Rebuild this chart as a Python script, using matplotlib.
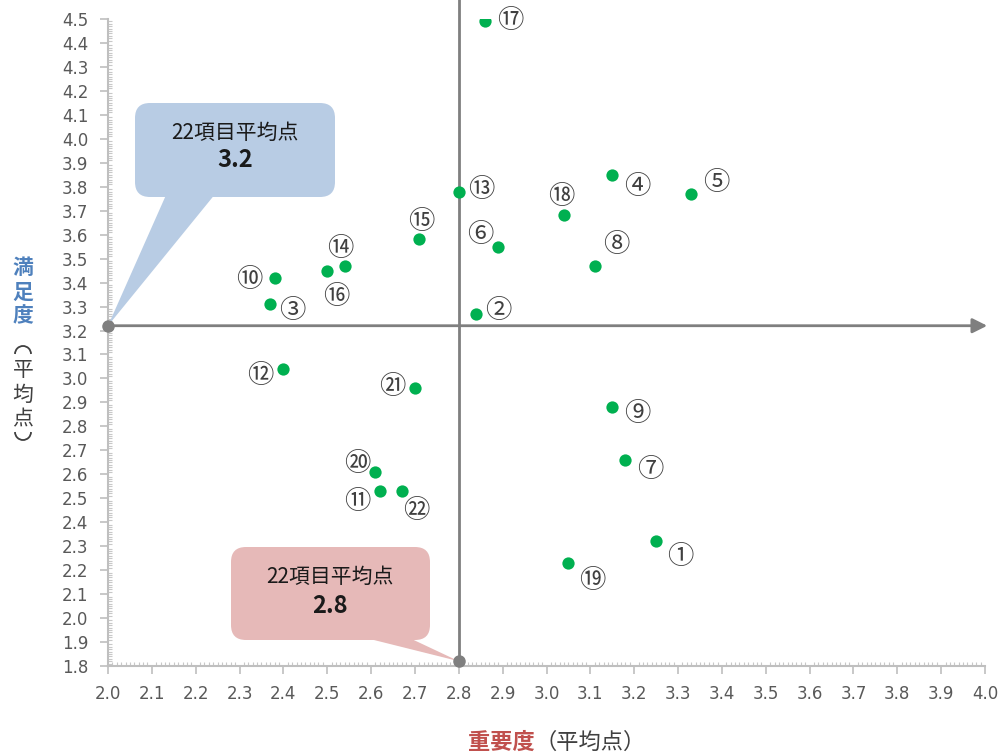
import matplotlib
matplotlib.use('Agg')
import matplotlib.pyplot as plt
from matplotlib.patches import FancyBboxPatch, Polygon, Arc
from matplotlib.ticker import MultipleLocator, FormatStrFormatter

# ---- data ----
item_labels = ['①', '②', '③', '④', '⑤', '⑥', '⑦', '⑧', '⑨', '⑩', '⑪',
               '⑫', '⑬', '⑭', '⑮', '⑯', '⑰', '⑱', '⑲', '⑳', '㉑', '㉒']
importance = [3.25, 2.84, 2.37, 3.15, 3.33, 2.89, 3.18, 3.11, 3.15, 2.38, 2.62,
              2.40, 2.80, 2.54, 2.71, 2.50, 2.86, 3.04, 3.05, 2.61, 2.70, 2.67]
satisfaction = [2.32, 3.27, 3.31, 3.85, 3.77, 3.55, 2.66, 3.47, 2.88, 3.42, 2.53,
                3.04, 3.78, 3.47, 3.58, 3.45, 4.49, 3.68, 2.23, 2.61, 2.96, 2.53]
mean_importance = 2.8
mean_satisfaction = 3.22
mean_imp_text = '2.8'
mean_sat_text = '3.2'
callout_title = '22項目平均点'
x_title_main = '重要度'
x_title_sub = '（平均点）'
y_title_main = ['満', '足', '度']
y_title_sub = ['平', '均', '点']

# label offsets (pixels) relative to each point
label_offsets = [(24, -11), (22, 7), (22, -2), (25, -8), (25, 15), (-18, 16),
                 (25, -6), (22, 25), (25, -2), (-25, 2), (-23, -6), (-23, -3),
                 (22, 6), (-5, 21), (2, 22), (9, -22), (25, 5), (-3, 23),
                 (24, -14), (-18, 12), (-23, 6), (14, -15)]
label_dy = -4
# vertical positions (pixels from top) of the stacked y-title characters
y_main_pos = [268, 292, 316]
y_sub_pos = [370, 395, 419]
paren_open_y, paren_close_y = 354, 432

CJK = ['Noto Sans CJK JP', 'DejaVu Sans']
W, H = 1002, 756

fig = plt.figure(figsize=(W / 100, H / 100), dpi=100)
ax = fig.add_axes([108 / W, 1 - 666 / H, 877 / W, 647 / H])
ax.set_xlim(2.0, 4.0)
ax.set_ylim(1.8, 4.5)

ax.xaxis.set_major_locator(MultipleLocator(0.1))
ax.xaxis.set_minor_locator(MultipleLocator(0.01))
ax.yaxis.set_major_locator(MultipleLocator(0.1))
ax.yaxis.set_minor_locator(MultipleLocator(0.01))
ax.xaxis.set_major_formatter(FormatStrFormatter('%.1f'))
ax.yaxis.set_major_formatter(FormatStrFormatter('%.1f'))
ax.tick_params(which='major', direction='out', length=6, width=1.2, color='#bfbfbf',
               labelsize=12, labelcolor='#595959', pad=8)
ax.tick_params(which='minor', direction='in', length=3, width=0.8, color='#c8c8c8')
for s in ['top', 'right']:
    ax.spines[s].set_visible(False)
for s in ['left', 'bottom']:
    ax.spines[s].set_color('#bfbfbf')
    ax.spines[s].set_linewidth(1.5)

line_c = '#7f7f7f'
# mean lines
ax.annotate('', xy=(4.005, mean_satisfaction), xytext=(2.0, mean_satisfaction),
            arrowprops=dict(arrowstyle='-|>', color=line_c, lw=2, mutation_scale=22,
                            shrinkA=0, shrinkB=0), annotation_clip=False, zorder=3)
ax.plot([mean_importance, mean_importance], [1.82, 4.58], color=line_c, lw=2,
        clip_on=False, zorder=3)
ax.plot([2.0], [mean_satisfaction], 'o', color=line_c, ms=8, clip_on=False, zorder=6)
ax.plot([mean_importance], [1.82], 'o', color=line_c, ms=8, clip_on=False, zorder=6)

# points
ax.scatter(importance, satisfaction, s=78, color='#00b050', zorder=5, linewidths=0)
for lab, x, y, off in zip(item_labels, importance, satisfaction, label_offsets):
    ax.annotate(lab, (x, y), xytext=(off[0], off[1] + label_dy), textcoords='offset pixels',
                ha='center', va='center', fontsize=19, color='#404040', family=CJK,
                zorder=6)


def to_axes(x, y):
    return ax.transAxes.inverted().transform(ax.transData.transform((x, y)))


aspect = 877 / 647
r = 15 / 877
# blue callout
blue = '#b8cce4'
bx0, bx1 = (135 - 108) / 877, (335 - 108) / 877
by0, by1 = (666 - 197) / 647, (666 - 103) / 647
ax.add_patch(FancyBboxPatch((bx0, by0), bx1 - bx0, by1 - by0,
                            boxstyle=f'round,pad=0,rounding_size={r}',
                            mutation_aspect=aspect, transform=ax.transAxes,
                            fc=blue, ec='none', clip_on=False, zorder=7))
tip = to_axes(2.0, mean_satisfaction)
ax.add_patch(Polygon([((168 - 108) / 877, by0 + 0.01), ((218 - 108) / 877, by0 + 0.01), tip],
                     closed=True, transform=ax.transAxes, fc=blue, ec='none',
                     clip_on=False, zorder=4))
bcx = (235 - 108) / 877
ax.text(bcx, (666 - 133) / 647, callout_title, transform=ax.transAxes, ha='center',
        va='center', fontsize=15, family=CJK, color='#1a1a1a', zorder=8)
ax.text(bcx, (666 - 160) / 647, mean_sat_text, transform=ax.transAxes, ha='center',
        va='center', fontsize=17, family=CJK, weight='bold', color='#1a1a1a', zorder=8)

# pink callout
pink = '#e6b9b8'
px0, px1 = (231 - 108) / 877, (430 - 108) / 877
py0, py1 = (666 - 640) / 647, (666 - 547) / 647
ax.add_patch(FancyBboxPatch((px0, py0), px1 - px0, py1 - py0,
                            boxstyle=f'round,pad=0,rounding_size={r}',
                            mutation_aspect=aspect, transform=ax.transAxes,
                            fc=pink, ec='none', clip_on=False, zorder=7))
tip2 = to_axes(mean_importance, 1.82)
ax.add_patch(Polygon([((348 - 108) / 877, py0 + 0.01), ((400 - 108) / 877, py0 + 0.01), tip2],
                     closed=True, transform=ax.transAxes, fc=pink, ec='none',
                     clip_on=False, zorder=4))
pcx = (330 - 108) / 877
ax.text(pcx, (666 - 577) / 647, callout_title, transform=ax.transAxes, ha='center',
        va='center', fontsize=15, family=CJK, color='#1a1a1a', zorder=8)
ax.text(pcx, (666 - 606) / 647, mean_imp_text, transform=ax.transAxes, ha='center',
        va='center', fontsize=17, family=CJK, weight='bold', color='#1a1a1a', zorder=8)

# x axis title
fig.text(535 / W, 1 - 742 / H, x_title_main, ha='right', va='center', fontsize=16,
         weight='bold', color='#c0504d', family=CJK)
fig.text(535 / W, 1 - 742 / H, x_title_sub, ha='left', va='center', fontsize=16,
         color='#404040', family=CJK)
# y axis title (stacked vertically, as vertical writing)
for ch, yp in zip(y_title_main, y_main_pos):
    fig.text(23 / W, 1 - yp / H, ch, ha='center', va='center', fontsize=15,
             weight='bold', color='#4f81bd', family=CJK)
for ch, yp in zip(y_title_sub, y_sub_pos):
    fig.text(23 / W, 1 - yp / H, ch, ha='center', va='center', fontsize=15,
             color='#404040', family=CJK)
# vertical-writing parentheses
fig.add_artist(Arc((23 / W, 1 - paren_open_y / H), 16 / W, 16 / H, theta1=0, theta2=180,
                   transform=fig.transFigure, color='#404040', lw=1.3))
fig.add_artist(Arc((23 / W, 1 - paren_close_y / H), 16 / W, 16 / H, theta1=180, theta2=360,
                   transform=fig.transFigure, color='#404040', lw=1.3))

fig.savefig('out.png', dpi=100)
